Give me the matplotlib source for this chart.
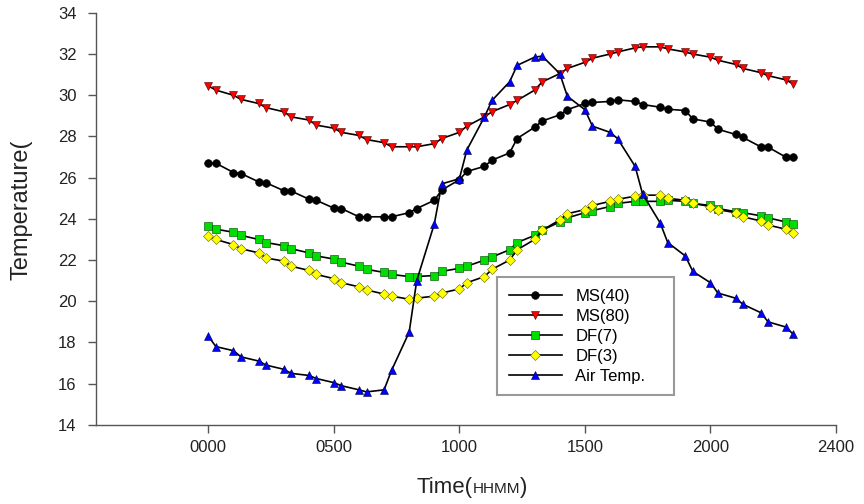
import matplotlib
matplotlib.use("Agg")
import matplotlib.pyplot as plt
from matplotlib.offsetbox import TextArea, HPacker, AnchoredOffsetbox

plt.rcParams['font.family'] = ['Liberation Sans', 'DejaVu Sans']

# time of day as HHMM number, every half hour
time_hhmm = [0, 30, 100, 130, 200, 230, 300, 330, 400, 430, 500, 530,
             600, 630, 700, 730, 800, 830, 900, 930, 1000, 1030, 1100, 1130,
             1200, 1230, 1300, 1330, 1400, 1430, 1500, 1530, 1600, 1630, 1700, 1730,
             1800, 1830, 1900, 1930, 2000, 2030, 2100, 2130, 2200, 2230, 2300, 2330]

ms40 = [26.7, 26.7, 26.25, 26.2, 25.8, 25.75, 25.37, 25.35, 24.96, 24.9, 24.52, 24.5,
        24.1, 24.1, 24.1, 24.1, 24.3, 24.5, 24.9, 25.4, 25.9, 26.3, 26.55, 26.85,
        27.2, 27.9, 28.45, 28.75, 29.05, 29.3, 29.6, 29.65, 29.7, 29.78, 29.7, 29.55,
        29.42, 29.32, 29.26, 28.85, 28.7, 28.35, 28.1, 27.95, 27.5, 27.48, 27.0, 27.0]

ms80 = [30.45, 30.25, 30.0, 29.8, 29.6, 29.4, 29.2, 28.95, 28.8, 28.55, 28.4, 28.2,
        28.05, 27.85, 27.7, 27.5, 27.5, 27.5, 27.65, 27.9, 28.2, 28.5, 28.95, 29.2,
        29.55, 29.75, 30.25, 30.65, 31.05, 31.3, 31.6, 31.8, 32.0, 32.1, 32.3, 32.35,
        32.35, 32.25, 32.1, 32.0, 31.85, 31.7, 31.5, 31.3, 31.1, 30.95, 30.75, 30.55]

df7 = [23.65, 23.5, 23.35, 23.2, 23.0, 22.85, 22.7, 22.55, 22.35, 22.2, 22.05, 21.9,
       21.7, 21.55, 21.4, 21.3, 21.2, 21.2, 21.25, 21.45, 21.6, 21.7, 22.0, 22.15,
       22.5, 22.85, 23.2, 23.45, 23.85, 24.05, 24.3, 24.4, 24.6, 24.75, 24.85, 24.85,
       24.85, 24.9, 24.85, 24.75, 24.65, 24.5, 24.35, 24.3, 24.15, 24.05, 23.85, 23.75]

df3 = [23.15, 23.0, 22.75, 22.55, 22.35, 22.1, 21.95, 21.7, 21.5, 21.3, 21.1, 20.9,
       20.7, 20.55, 20.35, 20.25, 20.1, 20.15, 20.25, 20.4, 20.6, 20.9, 21.2, 21.55,
       22.0, 22.5, 23.0, 23.45, 23.95, 24.25, 24.45, 24.65, 24.85, 24.95, 25.1, 25.15,
       25.15, 25.0, 24.9, 24.75, 24.6, 24.45, 24.3, 24.1, 23.9, 23.7, 23.5, 23.3]

air = [18.3, 17.8, 17.6, 17.3, 17.1, 16.9, 16.7, 16.5, 16.4, 16.25, 16.05, 15.9,
       15.7, 15.6, 15.7, 16.65, 18.5, 21.0, 23.75, 25.7, 25.95, 27.35, 28.95, 29.75,
       30.65, 31.45, 31.85, 31.9, 31.05, 29.95, 29.3, 28.5, 28.2, 27.9, 26.55, 25.2,
       23.8, 22.85, 22.2, 21.45, 20.9, 20.4, 20.15, 19.85, 19.45, 19.0, 18.75, 18.4]

xtick_pos = [0, 500, 1000, 1500, 2000, 2500]
xtick_labels = ['0000', '0500', '1000', '1500', '2000', '2400']
ytick_pos = [14, 16, 18, 20, 22, 24, 26, 28, 30, 32, 34]

fig = plt.figure(figsize=(8.64, 5.04), dpi=100)
ax = fig.add_axes([0.111, 0.157, 0.8565, 0.8175])

ax.plot(time_hhmm, ms40, color='black', lw=1.2, marker='o', ms=5.5,
        mfc='black', mec='black', mew=0.5, label='MS(40)')
ax.plot(time_hhmm, ms80, color='black', lw=1.2, marker='v', ms=6,
        mfc='#ff0000', mec='#400000', mew=0.4, label='MS(80)')
ax.plot(time_hhmm, df7, color='black', lw=1.2, marker='s', ms=5.5,
        mfc='#00dd00', mec='#004000', mew=0.4, label='DF(7)')
ax.plot(time_hhmm, df3, color='black', lw=1.2, marker='D', ms=5,
        mfc='#ffff00', mec='#606000', mew=0.4, label='DF(3)')
ax.plot(time_hhmm, air, color='black', lw=1.2, marker='^', ms=6,
        mfc='#0000ff', mec='#000040', mew=0.4, label='Air Temp.')

ax.set_xlim(-448, 2500)
ax.set_ylim(14, 34)
ax.set_xticks(xtick_pos)
ax.set_xticklabels(xtick_labels)
ax.set_yticks(ytick_pos)

for side in ['top', 'right']:
    ax.spines[side].set_visible(False)
for side in ['left', 'bottom']:
    ax.spines[side].set_color('#555555')
    ax.spines[side].set_linewidth(1.0)
ax.tick_params(axis='both', direction='out', length=6, width=1.0,
               color='#555555', labelsize=12, labelcolor='#222222')
ax.tick_params(axis='y', pad=8)
ax.tick_params(axis='x', pad=5)

leg = ax.legend(loc='upper left', bbox_to_anchor=(0.542, 0.07, 0.239, 0.289),
                mode='expand', borderaxespad=0, fontsize=12, handlelength=3.2,
                handletextpad=0.8, labelspacing=0.3, borderpad=0.7,
                fancybox=False, framealpha=1)
leg.get_frame().set_edgecolor('#999999')
leg.get_frame().set_linewidth(1.5)

fig.text(0.025, 0.583, 'Temperature(', rotation=90, ha='center', va='center',
         fontsize=17, color='#222222')

parts = HPacker(children=[TextArea('Time(', textprops=dict(size=16, color='#222222')),
                          TextArea('HHMM', textprops=dict(size=11, color='#222222')),
                          TextArea(')', textprops=dict(size=16, color='#222222'))],
                align='baseline', pad=0, sep=0)
xlab = AnchoredOffsetbox(loc='center', child=parts, frameon=False, pad=0,
                         bbox_to_anchor=(0.546, 0.032), bbox_transform=fig.transFigure,
                         borderpad=0)
fig.add_artist(xlab)

fig.savefig('out.png', dpi=100)
